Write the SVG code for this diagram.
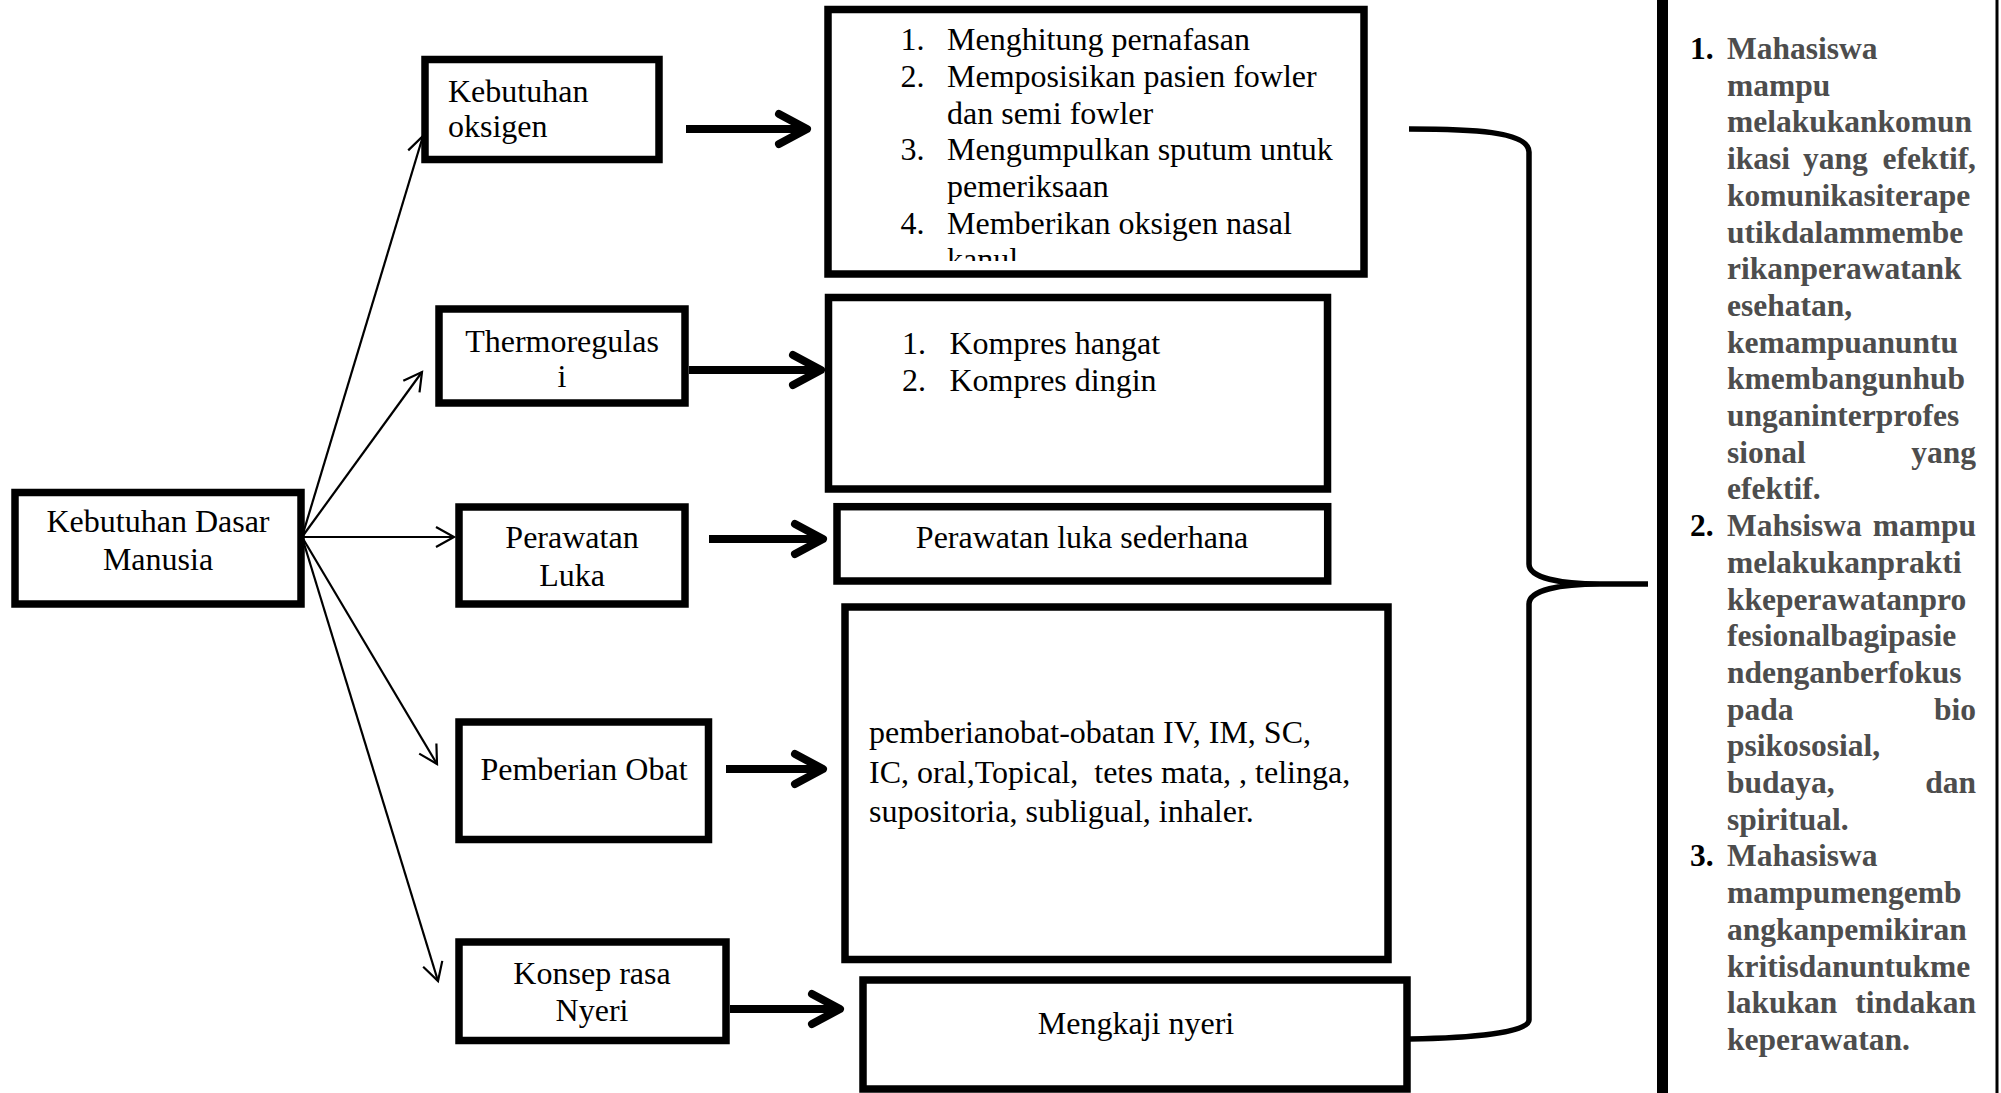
<svg xmlns="http://www.w3.org/2000/svg" width="2001" height="1093" viewBox="0 0 2001 1093">
<style>
.box{fill:#fff;stroke:#000;stroke-width:7.5}
.t{font-family:"Liberation Serif","Times New Roman",serif;font-size:32px;fill:#000;white-space:pre}
.c{text-anchor:middle}
.b{font-family:"Liberation Serif","Times New Roman",serif;font-size:31.5px;font-weight:bold;fill:#4d4d4d}
.n{fill:#000}
.e{text-anchor:end}
.thin{fill:none;stroke:#000;stroke-width:2.2}
.thick{fill:none;stroke:#000;stroke-width:8}
.brace{fill:none;stroke:#000;stroke-width:5.5;stroke-linejoin:round}
</style>
<defs>
<marker id="openHead" markerUnits="userSpaceOnUse" viewBox="0 0 22 24" markerWidth="22" markerHeight="24" refX="20" refY="12" orient="auto" overflow="visible">
<path d="M2,2 L20,12 L2,22" fill="none" stroke="#000" stroke-width="2.2"/>
</marker>
<marker id="boldHead" markerUnits="userSpaceOnUse" viewBox="0 0 40 40" markerWidth="40" markerHeight="40" refX="34" refY="20" orient="auto" overflow="visible">
<path d="M6,5 L34,20 L6,35" fill="none" stroke="#000" stroke-width="8" stroke-linecap="round" stroke-linejoin="round"/>
</marker>
<clipPath id="clip1"><rect x="832" y="13" width="528" height="248"/></clipPath>
</defs>
<rect x="0" y="0" width="2001" height="1093" fill="#fff"/>

<g id="connectors">
<line class="thin" x1="302" y1="537" x2="423" y2="136" marker-end="url(#openHead)"/>
<line class="thin" x1="302" y1="537" x2="422" y2="372" marker-end="url(#openHead)"/>
<line class="thin" x1="302" y1="537" x2="454" y2="537" marker-end="url(#openHead)"/>
<line class="thin" x1="302" y1="537" x2="437" y2="764" marker-end="url(#openHead)"/>
<line class="thin" x1="302" y1="537" x2="438" y2="981" marker-end="url(#openHead)"/>
<line class="thick" x1="686" y1="129" x2="807" y2="129" marker-end="url(#boldHead)"/>
<line class="thick" x1="689" y1="370" x2="821" y2="370" marker-end="url(#boldHead)"/>
<line class="thick" x1="709" y1="539" x2="823" y2="539" marker-end="url(#boldHead)"/>
<line class="thick" x1="726" y1="769" x2="823" y2="769" marker-end="url(#boldHead)"/>
<line class="thick" x1="730" y1="1009" x2="840" y2="1009" marker-end="url(#boldHead)"/>
<path class="brace" d="M1409,129 C1470,129 1529,131 1529,152 L1529,564 C1529,578 1560,584 1600,584 L1648,584 M1600,584 C1560,584 1529,590 1529,604 L1529,1020 C1529,1033 1470,1038 1410,1039"/>
</g>

<g id="node-kebutuhan-dasar">
<rect class="box" x="15" y="492.5" width="286" height="111.5"/>
<text class="t c" x="158" y="532">Kebutuhan Dasar</text>
<text class="t c" x="158" y="570">Manusia</text>
</g>

<g id="node-kebutuhan-oksigen">
<rect class="box" x="425" y="59.5" width="234" height="100"/>
<text class="t" x="448" y="102">Kebutuhan</text>
<text class="t" x="448" y="137">oksigen</text>
</g>

<g id="node-thermoregulasi">
<rect class="box" x="439" y="309" width="246" height="94"/>
<text class="t c" x="562" y="352">Thermoregulas</text>
<text class="t c" x="562" y="387">i</text>
</g>

<g id="node-perawatan-luka">
<rect class="box" x="459" y="507" width="226" height="97"/>
<text class="t c" x="572" y="548">Perawatan</text>
<text class="t c" x="572" y="586">Luka</text>
</g>

<g id="node-pemberian-obat">
<rect class="box" x="459" y="722" width="249.5" height="117.5"/>
<text class="t c" x="584" y="780">Pemberian Obat</text>
</g>

<g id="node-konsep-nyeri">
<rect class="box" x="459" y="942" width="267" height="98.5"/>
<text class="t c" x="592" y="984">Konsep rasa</text>
<text class="t c" x="592" y="1021">Nyeri</text>
</g>

<g id="node-oksigen-list">
<rect class="box" x="828" y="9.5" width="536" height="264.5"/>
<g clip-path="url(#clip1)">
<text class="t" x="900.5" y="50">1.</text><text class="t" x="947" y="50">Menghitung pernafasan</text>
<text class="t" x="900.5" y="87">2.</text><text class="t" x="947" y="87">Memposisikan pasien fowler</text>
<text class="t" x="947" y="123.5">dan semi fowler</text>
<text class="t" x="900.5" y="160">3.</text><text class="t" x="947" y="160">Mengumpulkan sputum untuk</text>
<text class="t" x="947" y="196.5">pemeriksaan</text>
<text class="t" x="900.5" y="233.5">4.</text><text class="t" x="947" y="233.5">Memberikan oksigen nasal</text>
<text class="t" x="947" y="270">kanul</text>
</g>
</g>

<g id="node-kompres">
<rect class="box" x="828.5" y="297.5" width="499" height="191.5"/>
<text class="t" x="902" y="353.5">1.</text><text class="t" x="949.5" y="353.5">Kompres hangat</text>
<text class="t" x="902" y="391">2.</text><text class="t" x="949.5" y="391">Kompres dingin</text>
</g>

<g id="node-luka-sederhana">
<rect class="box" x="837" y="506.7" width="490.7" height="74.3"/>
<text class="t c" x="1082" y="548">Perawatan luka sederhana</text>
</g>

<g id="node-obat-list">
<rect class="box" x="845" y="607" width="543" height="352.5"/>
<text class="t" x="869" y="743">pemberianobat-obatan IV, IM, SC,</text>
<text class="t" x="869" y="783">IC, oral,Topical,  tetes mata, , telinga,</text>
<text class="t" x="869" y="822">supositoria, subligual, inhaler.</text>
</g>

<g id="node-mengkaji-nyeri">
<rect class="box" x="863" y="980" width="544" height="109"/>
<text class="t c" x="1136" y="1034">Mengkaji nyeri</text>
</g>

<g id="node-tujuan">
<line x1="1662.5" y1="0" x2="1662.5" y2="1093" stroke="#000" stroke-width="11"/>
<line x1="1997" y1="0" x2="1997" y2="1093" stroke="#000" stroke-width="3"/>
<text class="b n" x="1690" y="59">1.</text>
<text class="b" x="1727" y="59">Mahasiswa</text>
<text class="b" x="1727" y="95.7">mampu</text>
<text class="b" x="1727" y="132.4">melakukankomun</text>
<text class="b" x="1727" y="169.1">ikasi</text><text class="b" x="1803" y="169.1">yang</text><text class="b e" x="1976" y="169.1">efektif,</text>
<text class="b" x="1727" y="205.8">komunikasiterape</text>
<text class="b" x="1727" y="242.5">utikdalammembe</text>
<text class="b" x="1727" y="279.2">rikanperawatank</text>
<text class="b" x="1727" y="315.9">esehatan,</text>
<text class="b" x="1727" y="352.6">kemampuanuntu</text>
<text class="b" x="1727" y="389.3">kmembangunhub</text>
<text class="b" x="1727" y="426">unganinterprofes</text>
<text class="b" x="1727" y="462.7">sional</text><text class="b e" x="1976" y="462.7">yang</text>
<text class="b" x="1727" y="499.4">efektif.</text>
<text class="b n" x="1690" y="536.1">2.</text>
<text class="b" x="1727" y="536.1">Mahsiswa</text><text class="b e" x="1976" y="536.1">mampu</text>
<text class="b" x="1727" y="572.8">melakukanprakti</text>
<text class="b" x="1727" y="609.5">kkeperawatanpro</text>
<text class="b" x="1727" y="646.2">fesionalbagipasie</text>
<text class="b" x="1727" y="682.9">ndenganberfokus</text>
<text class="b" x="1727" y="719.6">pada</text><text class="b e" x="1976" y="719.6">bio</text>
<text class="b" x="1727" y="756.3">psikososial,</text>
<text class="b" x="1727" y="793">budaya,</text><text class="b e" x="1976" y="793">dan</text>
<text class="b" x="1727" y="829.7">spiritual.</text>
<text class="b n" x="1690" y="866.4">3.</text>
<text class="b" x="1727" y="866.4">Mahasiswa</text>
<text class="b" x="1727" y="903.1">mampumengemb</text>
<text class="b" x="1727" y="939.8">angkanpemikiran</text>
<text class="b" x="1727" y="976.5">kritisdanuntukme</text>
<text class="b" x="1727" y="1013.2">lakukan</text><text class="b e" x="1976" y="1013.2">tindakan</text>
<text class="b" x="1727" y="1049.9">keperawatan.</text>
</g>
</svg>
